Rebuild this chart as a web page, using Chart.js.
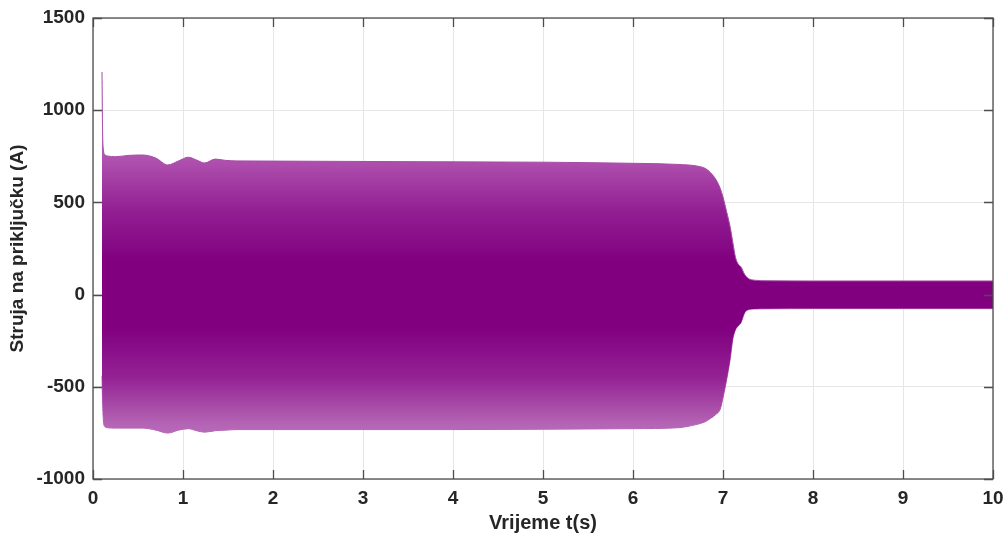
<!DOCTYPE html>
<html>
<head>
<meta charset="utf-8">
<script src="https://cdn.jsdelivr.net/npm/chart.js@4/dist/chart.umd.min.js"></script>
<style>
  html, body { margin: 0; padding: 0; background: #fff; }
  #wrap { width: 1008px; height: 542px; }
</style>
</head>
<body>
<div id="wrap"><canvas id="myChart" width="1008" height="542"></canvas></div>
<script>
// vrijeme (s) i ovojnica struje (A) ocitana sa slike
const vrijeme = [0.1, 0.105, 0.115, 0.13, 0.16, 0.25, 0.4, 0.55, 0.7, 0.83, 0.95, 1.06, 1.15, 1.24, 1.36, 1.47, 1.6, 2.0, 3.0, 4.0, 5.0, 6.0, 6.5, 6.7, 6.8, 6.86, 6.92, 6.97, 7.0, 7.04, 7.08, 7.11, 7.14, 7.17, 7.2, 7.24, 7.28, 7.35, 7.5, 8, 9, 10];
const gornja = [1207, 930, 790, 760, 752, 748, 755, 757, 740, 703, 725, 745, 730, 714, 735, 728, 725, 724, 722, 720, 718, 712, 706, 698, 685, 662, 625, 575, 529, 450, 366, 280, 200, 165, 150, 110, 88, 78, 75, 74, 74, 74];
const donja = [-440, -560, -680, -715, -722, -724, -724, -724, -735, -751, -735, -727, -738, -746, -738, -735, -732, -732, -732, -732, -730, -727, -722, -705, -690, -672, -650, -620, -560, -463, -350, -240, -190, -170, -153, -100, -82, -78, -77, -76, -76, -76];
const xTicks = [0, 1, 2, 3, 4, 5, 6, 7, 8, 9, 10];
const yTicks = [-1000, -500, 0, 500, 1000, 1500];

const FONT = "'Liberation Sans', Arial, sans-serif";

// gradijent: tamno u sredini, svjetlije prema rubovima
function bandFill(context) {
  const chart = context.chart;
  if (!chart.chartArea) return '#800080';
  const y = chart.scales.y;
  const p0 = y.getPixelForValue(800), p1 = y.getPixelForValue(-800);
  const g = chart.ctx.createLinearGradient(0, p0, 0, p1);
  const stop = v => (y.getPixelForValue(v) - p0) / (p1 - p0);
  g.addColorStop(0, '#b45cb4');
  g.addColorStop(stop(700), '#ac4cac');
  g.addColorStop(stop(450), '#921e92');
  g.addColorStop(stop(180), '#800080');
  g.addColorStop(stop(-180), '#800080');
  g.addColorStop(stop(-450), '#942294');
  g.addColorStop(stop(-700), '#b464b4');
  g.addColorStop(1, '#be6ebe');
  return g;
}

const boxPlugin = {
  id: 'box',
  afterDraw(chart) {
    const a = chart.chartArea, ctx = chart.ctx;
    const xs = chart.scales.x, ys = chart.scales.y;
    ctx.save();
    ctx.strokeStyle = '#4d4d4d';
    ctx.lineWidth = 1.3;
    ctx.beginPath();
    xTicks.forEach(t => {
      const px = Math.round(xs.getPixelForValue(t)) + 0.5;
      ctx.moveTo(px, a.bottom); ctx.lineTo(px, a.bottom - 9);
      ctx.moveTo(px, a.top); ctx.lineTo(px, a.top + 9);
    });
    yTicks.forEach(t => {
      const py = Math.round(ys.getPixelForValue(t)) + 0.5;
      ctx.moveTo(a.left, py); ctx.lineTo(a.left + 9, py);
      ctx.moveTo(a.right, py); ctx.lineTo(a.right - 9, py);
    });
    ctx.stroke();
    ctx.strokeRect(a.left, a.top, a.right - a.left, a.bottom - a.top);
    ctx.restore();
  }
};

const ctx = document.getElementById('myChart').getContext('2d');
new Chart(ctx, {
  type: 'line',
  data: {
    datasets: [{
      label: 'gornja',
      data: vrijeme.map((t, i) => ({ x: t, y: gornja[i] })),
      borderColor: '#a64ca6',
      borderWidth: 1,
      pointRadius: 0,
      cubicInterpolationMode: 'monotone',
      fill: '+1',
      backgroundColor: bandFill
    }, {
      label: 'donja',
      data: vrijeme.map((t, i) => ({ x: t, y: donja[i] })),
      borderColor: '#b060b0',
      borderWidth: 1,
      pointRadius: 0,
      cubicInterpolationMode: 'monotone',
      fill: false
    }]
  },
  options: {
    responsive: false,
    animation: false,
    layout: { padding: { top: 18, right: 15, left: 0, bottom: 0 } },
    plugins: { legend: { display: false }, tooltip: { enabled: false } },
    scales: {
      x: {
        type: 'linear',
        min: 0, max: 10,
        afterBuildTicks: s => { s.ticks = xTicks.map(v => ({ value: v })); },
        afterFit: s => { s.height = 63; s.paddingRight = 0; s.paddingLeft = 0; },
        grid: { color: '#e6e6e6', lineWidth: 1, drawTicks: false },
        border: { display: false },
        ticks: { color: '#262626', padding: 8, maxRotation: 0, callback: v => String(v), font: { family: FONT, size: 19, weight: 'bold' } },
        title: { display: true, text: 'Vrijeme t(s)', color: '#262626', padding: { top: 0, bottom: 7 }, font: { family: FONT, size: 20, weight: 'bold' } }
      },
      y: {
        min: -1000, max: 1500,
        afterBuildTicks: s => { s.ticks = yTicks.map(v => ({ value: v })); },
        afterFit: s => { s.width = 93; s.paddingTop = 0; s.paddingBottom = 0; },
        grid: { color: '#e6e6e6', lineWidth: 1, drawTicks: false },
        border: { display: false },
        ticks: { color: '#262626', padding: 8, callback: v => String(v), font: { family: FONT, size: 19, weight: 'bold' } },
        title: { display: true, text: 'Struja na priključku (A)', color: '#262626', padding: { top: 6, bottom: 0 }, font: { family: FONT, size: 19, weight: 'bold' } }
      }
    }
  },
  plugins: [boxPlugin]
});
</script>
</body>
</html>
